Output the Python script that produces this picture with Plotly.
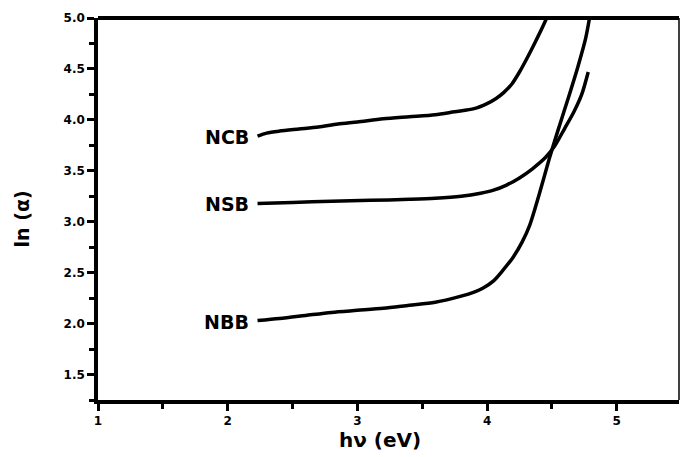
import plotly.graph_objects as go

# Data
ncb_x = [2.23, 2.3, 2.4, 2.55, 2.7, 2.85, 3.0, 3.2, 3.4, 3.6, 3.75, 3.9, 4.0, 4.07, 4.13, 4.19, 4.25, 4.31, 4.37, 4.42, 4.46]
ncb_y = [3.84, 3.87, 3.89, 3.91, 3.93, 3.96, 3.98, 4.01, 4.03, 4.05, 4.08, 4.11, 4.16, 4.21, 4.27, 4.35, 4.47, 4.61, 4.76, 4.89, 5.0]

nsb_x = [2.23, 2.5, 2.8, 3.1, 3.4, 3.6, 3.8, 3.95, 4.05, 4.15, 4.25, 4.35, 4.45, 4.52, 4.6, 4.67, 4.73, 4.78]
nsb_y = [3.18, 3.19, 3.20, 3.21, 3.22, 3.23, 3.25, 3.28, 3.31, 3.36, 3.43, 3.52, 3.63, 3.74, 3.92, 4.08, 4.25, 4.47]

nbb_x = [2.23, 2.4, 2.6, 2.8, 3.0, 3.2, 3.4, 3.6, 3.8, 3.9, 3.97, 4.05, 4.12, 4.2, 4.27, 4.33, 4.4, 4.48, 4.56, 4.63, 4.7, 4.76, 4.79]
nbb_y = [2.03, 2.05, 2.08, 2.11, 2.13, 2.15, 2.18, 2.21, 2.27, 2.31, 2.35, 2.42, 2.52, 2.65, 2.80, 2.97, 3.26, 3.62, 3.95, 4.23, 4.52, 4.80, 5.0]

series = [("NCB", ncb_x, ncb_y), ("NSB", nsb_x, nsb_y), ("NBB", nbb_x, nbb_y)]

y_ticks = [1.5, 2.0, 2.5, 3.0, 3.5, 4.0, 4.5, 5.0]
y_ticktext = ["1.5", "2.0", "2.5", "3.0", "3.5", "4.0", "4.5", "5.0"]
x_ticks = [1, 2, 3, 4, 5]
x_ticktext = ["1", "2", "3", "4", "5"]

FONT = "DejaVu Sans"

fig = go.Figure()
for name, xs, ys in series:
    fig.add_trace(go.Scatter(
        x=xs, y=ys, mode="lines", name=name,
        line=dict(color="black", width=3.5, shape="spline", smoothing=0.8),
        cliponaxis=True, showlegend=False,
    ))
    fig.add_annotation(
        x=xs[0], y=ys[0], text="<b>" + name + "</b>", showarrow=False,
        xanchor="right", yanchor="middle", xshift=-7, yshift=-1,
        font=dict(family=FONT, size=19, color="black"),
    )

fig.update_layout(
    width=680, height=457,
    margin=dict(l=98, r=1, t=18, b=57),
    paper_bgcolor="white", plot_bgcolor="white",
    font=dict(family=FONT, color="black"),
)
fig.update_xaxes(
    range=[1, 5.48], tickvals=x_ticks, ticktext=x_ticktext,
    showgrid=False, zeroline=False,
    showline=True, linecolor="black", linewidth=3.5,
    ticks="outside", ticklen=7, tickwidth=3, tickcolor="black",
    minor=dict(ticks="outside", dtick=0.5, tick0=1, ticklen=5, tickwidth=3, tickcolor="black", showgrid=False),
    tickfont=dict(family=FONT, size=12, weight="bold"),
)
fig.update_yaxes(
    range=[1.25, 5.0], tickvals=y_ticks, ticktext=y_ticktext,
    showgrid=False, zeroline=False,
    showline=True, linecolor="black", linewidth=3.5,
    ticks="outside", ticklen=7, tickwidth=3, tickcolor="black",
    minor=dict(ticks="outside", dtick=0.25, tick0=1.25, ticklen=5, tickwidth=3, tickcolor="black", showgrid=False),
    tickfont=dict(family=FONT, size=12, weight="bold"),
)
# axis titles
fig.add_annotation(xref="paper", yref="paper", x=0.485, y=-0.105, text="<b>hν (eV)</b>",
                   showarrow=False, xanchor="center", yanchor="middle",
                   font=dict(family=FONT, size=20, color="black"))
fig.add_annotation(xref="paper", yref="paper", x=-0.131, y=0.475, text="<b>ln (α)</b>",
                   showarrow=False, xanchor="center", yanchor="middle", textangle=-90,
                   font=dict(family=FONT, size=19, color="black"))
# top (thick) and right (thin) frame
fig.add_shape(type="line", xref="paper", yref="paper", x0=0, x1=1, y0=1, y1=1,
              line=dict(color="black", width=4))
fig.add_shape(type="line", xref="paper", yref="paper", x0=1, x1=1, y0=0, y1=1,
              line=dict(color="black", width=1.5))

fig.write_html("out.html")
